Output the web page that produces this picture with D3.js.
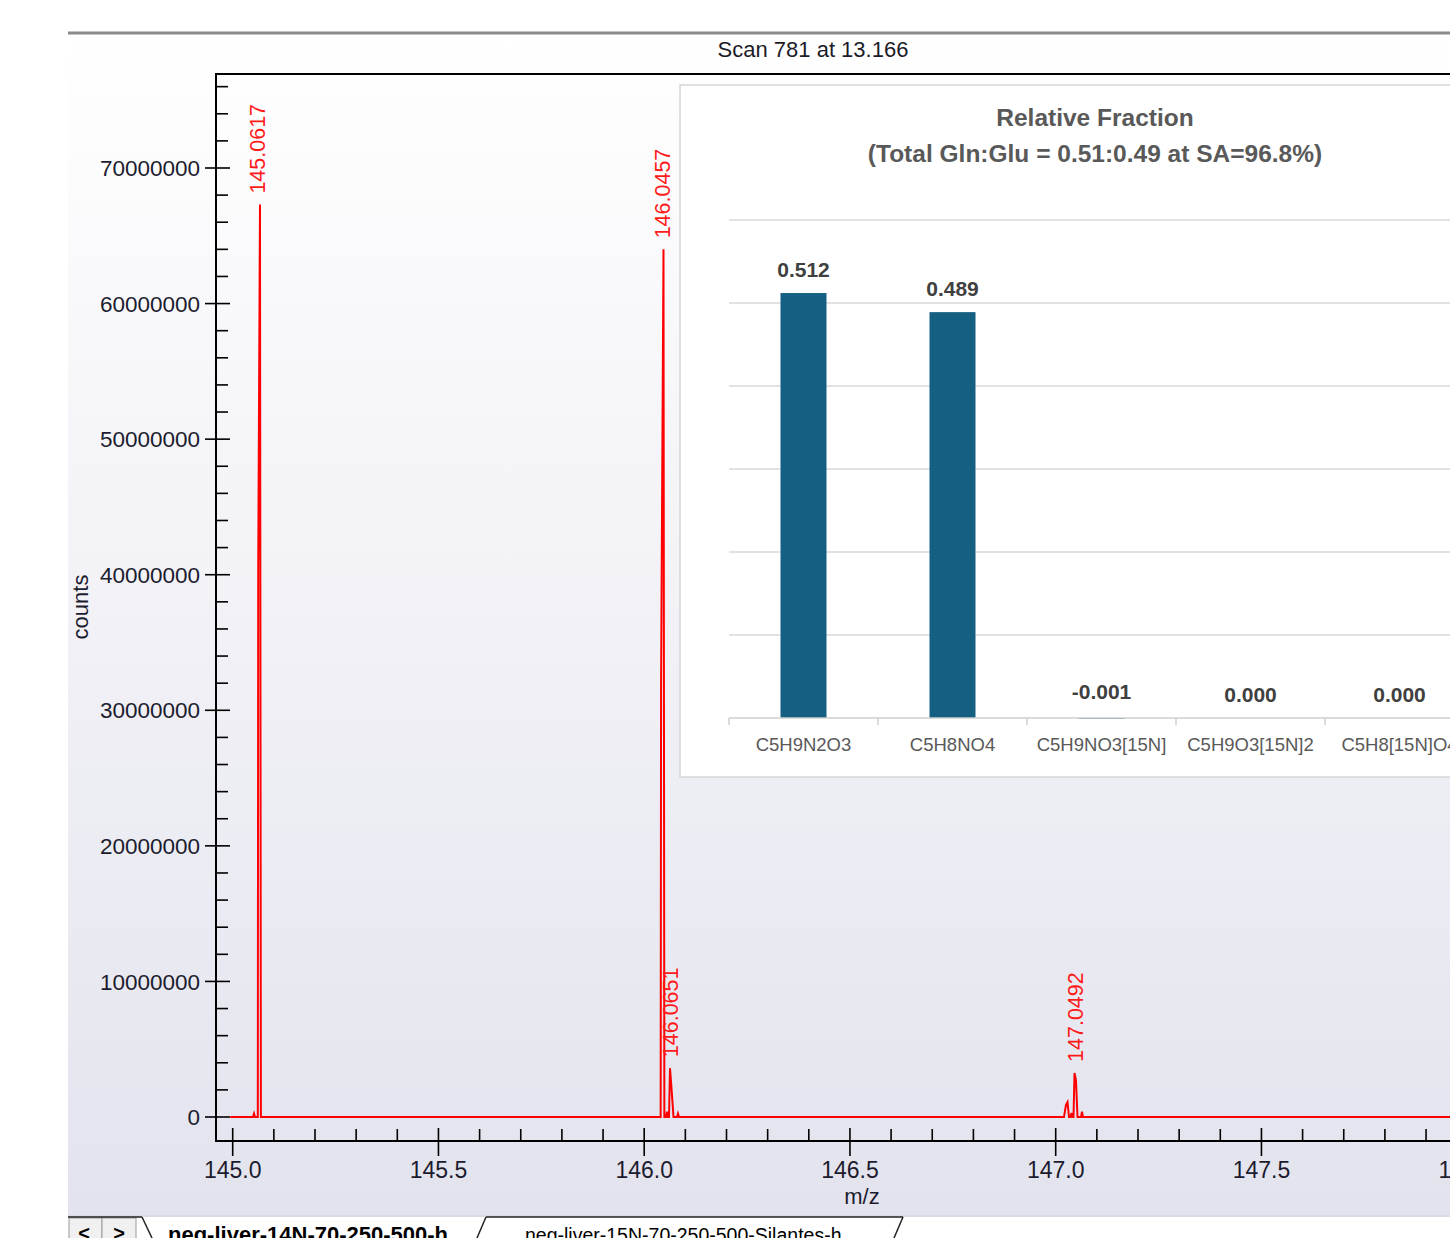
<!DOCTYPE html>
<html><head><meta charset="utf-8">
<script src="https://cdn.jsdelivr.net/npm/d3@7"></script>
<style>html,body{margin:0;padding:0;background:#fff;overflow:hidden}</style>
</head><body>
<svg id="chart" width="1450" height="1238"></svg>
<script>
// ---- spectrum data (profile points, m/z vs counts) ----
const scanTitle = "Scan 781 at 13.166";
const specMz = [
  144.9940, 145.0493, 145.0518, 145.0542, 145.0610, 145.0620, 145.0663, 145.0685,
  146.0400, 146.0410, 146.0469, 146.0490, 146.0530, 146.0554, 146.0578, 146.0603,
  146.0627, 146.0676, 146.0712, 146.0797, 146.0821, 146.0846,
  147.0202, 147.0250, 147.0287, 147.0323, 147.0360, 147.0384, 147.0408, 147.0433,
  147.0457, 147.0493, 147.0530, 147.0615, 147.0639, 147.0663, 148.0500
];
const specCounts = [
  0, 0, 250000, 0, 0, 40500000, 67300000, 0,
  0, 32000000, 64000000, 0, 0, 400000, 0, 0,
  3600000, 1600000, 0, 0, 250000, 0,
  0, 900000, 1100000, 0, 0, 300000, 0, 0,
  3250000, 2700000, 0, 0, 400000, 0, 0
];
const peakLabelMz = [145.0617, 146.0457, 146.0651, 147.0492];
const peakLabelCounts = [67300000, 64000000, 3600000, 3250000];
const peakLabelText = ["145.0617", "146.0457", "146.0651", "147.0492"];

const yTickValues = [0, 10000000, 20000000, 30000000, 40000000, 50000000, 60000000, 70000000];
const yTickLabels = ["0", "10000000", "20000000", "30000000", "40000000", "50000000", "60000000", "70000000"];
const xTickValues = [145.0, 145.5, 146.0, 146.5, 147.0, 147.5, 148.0];
const xTickLabels = ["145.0", "145.5", "146.0", "146.5", "147.0", "147.5", "148.0"];
const xAxisTitle = "m/z";
const yAxisTitle = "counts";

// ---- relative fraction inset ----
const fractionTitle1 = "Relative Fraction";
const fractionTitle2 = "(Total Gln:Glu = 0.51:0.49 at SA=96.8%)";
const fractionCategories = ["C5H9N2O3", "C5H8NO4", "C5H9NO3[15N]", "C5H9O3[15N]2", "C5H8[15N]O4"];
const fractionValues = [0.512, 0.489, -0.001, 0.000, 0.000];
const fractionLabels = ["0.512", "0.489", "-0.001", "0.000", "0.000"];
const fractionGrid = [0.1, 0.2, 0.3, 0.4, 0.5, 0.6];

const tabNames = ["neg-liver-14N-70-250-500-h", "neg-liver-15N-70-250-500-Silantes-h"];

const FONT = "'Liberation Sans', Arial, sans-serif";
const svg = d3.select("#chart");

// background panel gradient
const defs = svg.append("defs");
const grad = defs.append("linearGradient").attr("id", "panelBg")
  .attr("x1", 0).attr("y1", 0).attr("x2", 0).attr("y2", 1);
grad.append("stop").attr("offset", "0%").attr("stop-color", "#ffffff");
grad.append("stop").attr("offset", "100%").attr("stop-color", "#e3e3ee");

svg.append("rect").attr("x", 68).attr("y", 33).attr("width", 1382).attr("height", 1184)
  .attr("fill", "url(#panelBg)");
svg.append("line").attr("x1", 68).attr("x2", 1450).attr("y1", 33).attr("y2", 33)
  .attr("stroke", "#c4c4c4").attr("stroke-width", 4);
svg.append("line").attr("x1", 68).attr("x2", 1450).attr("y1", 33).attr("y2", 33)
  .attr("stroke", "#8a8a8a").attr("stroke-width", 2);

svg.append("text").attr("x", 813).attr("y", 57).attr("text-anchor", "middle")
  .style("font-family", FONT).style("font-size", "22px").attr("fill", "#1c1c28")
  .text(scanTitle);

// ---- scales ----
const x = d3.scaleLinear().domain([145, 147]).range([232.7, 1055.7]);
const y = d3.scaleLinear().domain([0, 70000000]).range([1117, 168]);

const axisX = 216, axisTop = 74, axisBottom = 1141;

// frame
const frame = svg.append("g").attr("stroke", "#000").attr("stroke-width", 2);
frame.append("line").attr("x1", axisX).attr("x2", 1450).attr("y1", axisTop).attr("y2", axisTop);
frame.append("line").attr("x1", axisX).attr("x2", axisX).attr("y1", axisTop - 1).attr("y2", axisBottom + 1);
frame.append("line").attr("x1", axisX).attr("x2", 1450).attr("y1", axisBottom).attr("y2", axisBottom);

// y ticks
const yMinor = d3.range(0, 78000000, 2000000).filter(v => v % 10000000 !== 0);
svg.append("g").selectAll("line").data(yMinor).join("line")
  .attr("x1", axisX).attr("x2", axisX + 12)
  .attr("y1", d => y(d)).attr("y2", d => y(d))
  .attr("stroke", "#000").attr("stroke-width", 1.6);
const yMajor = svg.append("g");
yMajor.selectAll("line").data(yTickValues).join("line")
  .attr("x1", axisX - 11).attr("x2", axisX + 14)
  .attr("y1", d => y(d)).attr("y2", d => y(d))
  .attr("stroke", "#000").attr("stroke-width", 1.6);
yMajor.selectAll("text").data(yTickValues).join("text")
  .attr("x", 200).attr("y", d => y(d)).attr("dy", "0.36em").attr("text-anchor", "end")
  .style("font-family", FONT).style("font-size", "22.5px").attr("fill", "#1c1c2e")
  .text((d, i) => yTickLabels[i]);

// x ticks
const xMinor = d3.range(0, 31).map(i => 145 + i * 0.1).filter(v => Math.abs(v * 2 - Math.round(v * 2)) > 1e-6);
svg.append("g").selectAll("line").data(xMinor).join("line")
  .attr("x1", d => x(d)).attr("x2", d => x(d))
  .attr("y1", axisBottom - 12).attr("y2", axisBottom)
  .attr("stroke", "#000").attr("stroke-width", 1.6);
const xMajor = svg.append("g");
xMajor.selectAll("line").data(xTickValues).join("line")
  .attr("x1", d => x(d)).attr("x2", d => x(d))
  .attr("y1", axisBottom - 13).attr("y2", axisBottom + 15)
  .attr("stroke", "#000").attr("stroke-width", 1.6);
xMajor.selectAll("text").data(xTickValues).join("text")
  .attr("x", d => x(d)).attr("y", 1178).attr("text-anchor", "middle")
  .style("font-family", FONT).style("font-size", "23px").attr("fill", "#1c1c2e")
  .text((d, i) => xTickLabels[i]);

svg.append("text").attr("x", 862).attr("y", 1204).attr("text-anchor", "middle")
  .style("font-family", FONT).style("font-size", "22px").attr("fill", "#1c1c2e")
  .text(xAxisTitle);
svg.append("text").attr("transform", "translate(88,607) rotate(-90)").attr("text-anchor", "middle")
  .style("font-family", FONT).style("font-size", "22px").attr("fill", "#1c1c2e")
  .text(yAxisTitle);

// spectrum trace
const specPts = specMz.map((m, i) => [m, specCounts[i]]);
svg.append("path").datum(specPts)
  .attr("d", d3.line().x(d => x(d[0])).y(d => y(d[1])))
  .attr("fill", "none").attr("stroke", "#ff0000").attr("stroke-width", 2)
  .attr("stroke-linejoin", "miter");

// peak annotations
svg.append("g").selectAll("text").data(peakLabelMz).join("text")
  .attr("transform", (d, i) => `translate(${x(d) + 7},${y(peakLabelCounts[i]) - 11}) rotate(-90)`)
  .attr("text-anchor", "start")
  .style("font-family", FONT).style("font-size", "21.5px").attr("fill", "#ff1a1a")
  .text((d, i) => peakLabelText[i]);

// ---- inset: relative fraction bar chart ----
const inset = svg.append("g");
inset.append("rect").attr("x", 680).attr("y", 85).attr("width", 820).attr("height", 692)
  .attr("fill", "#ffffff").attr("stroke", "#d6d6d6").attr("stroke-width", 1.5);

inset.append("text").attr("x", 1095).attr("y", 126).attr("text-anchor", "middle")
  .style("font-family", FONT).style("font-size", "24.5px").style("font-weight", "bold")
  .attr("fill", "#595959").text(fractionTitle1);
inset.append("text").attr("x", 1095).attr("y", 162).attr("text-anchor", "middle")
  .style("font-family", FONT).style("font-size", "24.5px").style("font-weight", "bold")
  .attr("fill", "#595959").text(fractionTitle2);

const step = 149;
const xb = d3.scaleBand().domain(fractionCategories).range([729, 729 + step * fractionCategories.length]).padding(0);
const yb = d3.scaleLinear().domain([0, 0.6]).range([718, 220]);

inset.append("g").selectAll("line").data(fractionGrid).join("line")
  .attr("x1", 729).attr("x2", 1500)
  .attr("y1", d => yb(d)).attr("y2", d => yb(d))
  .attr("stroke", "#d9d9d9").attr("stroke-width", 1.5);

const barW = 46;
inset.append("g").selectAll("rect").data(fractionValues).join("rect")
  .attr("x", (d, i) => xb(fractionCategories[i]) + (xb.bandwidth() - barW) / 2)
  .attr("y", d => yb(Math.max(0, d)))
  .attr("width", barW)
  .attr("height", d => Math.abs(yb(d) - yb(0)))
  .attr("fill", "#156082");

// category axis
inset.append("line").attr("x1", 729).attr("x2", 1500).attr("y1", yb(0)).attr("y2", yb(0))
  .attr("stroke", "#cfcfcf").attr("stroke-width", 1.5);
inset.append("g").selectAll("line").data(fractionCategories).join("line")
  .attr("x1", d => xb(d)).attr("x2", d => xb(d))
  .attr("y1", yb(0)).attr("y2", yb(0) + 7)
  .attr("stroke", "#cfcfcf").attr("stroke-width", 1.5);
inset.append("g").selectAll("text").data(fractionCategories).join("text")
  .attr("x", d => xb(d) + xb.bandwidth() / 2).attr("y", 751).attr("text-anchor", "middle")
  .style("font-family", FONT).style("font-size", "18.5px").attr("fill", "#595959")
  .text(d => d);

inset.append("g").selectAll("text").data(fractionValues).join("text")
  .attr("x", (d, i) => xb(fractionCategories[i]) + xb.bandwidth() / 2)
  .attr("y", d => yb(Math.max(0, d)) - (d < 0 ? 19 : 16))
  .attr("text-anchor", "middle")
  .style("font-family", FONT).style("font-size", "21px").style("font-weight", "bold")
  .attr("fill", "#404040")
  .text((d, i) => fractionLabels[i]);

// ---- sheet tabs ----
const tabs = svg.append("g");
tabs.append("rect").attr("x", 68).attr("y", 1217).attr("width", 1382).attr("height", 21).attr("fill", "#ffffff");
tabs.append("line").attr("x1", 68).attr("x2", 1450).attr("y1", 1216).attr("y2", 1216)
  .attr("stroke", "#d0d0d8").attr("stroke-width", 1);
tabs.append("rect").attr("x", 69).attr("y", 1218).attr("width", 33).attr("height", 22)
  .attr("fill", "#f0f0f0").attr("stroke", "#9a9a9a");
tabs.append("rect").attr("x", 102).attr("y", 1218).attr("width", 34).attr("height", 22)
  .attr("fill", "#f0f0f0").attr("stroke", "#9a9a9a");
tabs.append("text").attr("x", 84).attr("y", 1240).attr("text-anchor", "middle")
  .style("font-family", FONT).style("font-size", "20px").style("font-weight", "bold").attr("fill", "#000").text("<");
tabs.append("text").attr("x", 119).attr("y", 1240).attr("text-anchor", "middle")
  .style("font-family", FONT).style("font-size", "20px").style("font-weight", "bold").attr("fill", "#000").text(">");
const tabStroke = "#222";
tabs.append("line").attr("x1", 68).attr("x2", 142).attr("y1", 1217).attr("y2", 1217).attr("stroke", tabStroke).attr("stroke-width", 1.5);
tabs.append("line").attr("x1", 142).attr("x2", 152).attr("y1", 1217).attr("y2", 1238).attr("stroke", tabStroke).attr("stroke-width", 1.5);
tabs.append("line").attr("x1", 486).attr("x2", 477).attr("y1", 1217).attr("y2", 1238).attr("stroke", tabStroke).attr("stroke-width", 1.5);
tabs.append("line").attr("x1", 486).attr("x2", 903).attr("y1", 1217).attr("y2", 1217).attr("stroke", tabStroke).attr("stroke-width", 1.5);
tabs.append("line").attr("x1", 903).attr("x2", 894).attr("y1", 1217).attr("y2", 1238).attr("stroke", tabStroke).attr("stroke-width", 1.5);
tabs.append("text").attr("x", 168).attr("y", 1242)
  .style("font-family", FONT).style("font-size", "22px").style("font-weight", "bold").attr("fill", "#000")
  .text(tabNames[0]);
tabs.append("text").attr("x", 525).attr("y", 1242)
  .style("font-family", FONT).style("font-size", "19.5px").attr("fill", "#000")
  .text(tabNames[1]);
</script>
</body></html>
